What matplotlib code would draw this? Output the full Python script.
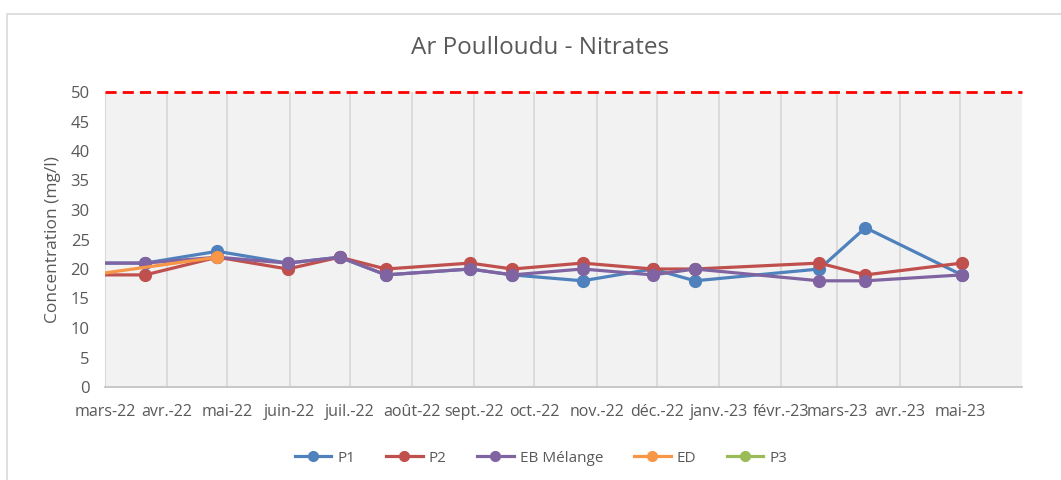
import matplotlib
matplotlib.use("Agg")
import matplotlib.pyplot as plt
import numpy as np
import pandas as pd
from matplotlib.lines import Line2D

plt.rcParams['font.family'] = ['Open Sans', 'DejaVu Sans']

# ---- data ----
dates = ["2022-02-22", "2022-03-21", "2022-04-26", "2022-05-31", "2022-06-26",
         "2022-07-19", "2022-08-30", "2022-09-20", "2022-10-25", "2022-11-29",
         "2022-12-20", "2023-02-20", "2023-03-15", "2023-05-02"]
p1 = [21, 21, 23, 21, 22, 19, 20, 19, 18, 20, 18, 20, 27, 19]
p2 = [19, 19, 22, 20, 22, 20, 21, 20, 21, 20, 20, 21, 19, 21]
eb = [21, 21, 22, 21, 22, 19, 20, 19, 20, 19, 20, 18, 18, 19]
ed_dates = ["2022-02-22", "2022-04-26"]
ed = [19, 22]
p3 = []
limit_value = 50

tick_months = pd.date_range("2022-03-01", "2023-05-01", freq="MS")
tick_labels = ["mars-22", "avr.-22", "mai-22", "juin-22", "juil.-22", "août-22",
               "sept.-22", "oct.-22", "nov.-22", "déc.-22", "janv.-23", "févr.-23",
               "mars-23", "avr.-23", "mai-23"]
series_names = ["P1", "P2", "EB Mélange", "ED", "P3"]
colors = ["#4F81BD", "#C0504D", "#8064A2", "#F79646", "#9BBB59"]

x = pd.to_datetime(dates)
x_ed = pd.to_datetime(ed_dates)

fig = plt.figure(figsize=(10.61, 4.8), dpi=100)
# chart border
fig.patches.append(plt.Rectangle((7/1061, -0.1), 1.2, (480-14)/480 + 0.1,
                                 transform=fig.transFigure, fill=False,
                                 edgecolor="#D9D9D9", linewidth=1.2))
ax = fig.add_axes([105/1061, 1-387/480, (1022-105)/1061, (387-92)/480])
ax.set_facecolor("#F2F2F2")

lw = 2.3
ms = 8.5
ax.plot(x, p1, color=colors[0], lw=lw, marker="o", ms=ms, zorder=3)
ax.plot(x, p2, color=colors[1], lw=lw, marker="o", ms=ms, zorder=4)
ax.plot(x, eb, color=colors[2], lw=lw, marker="o", ms=ms, zorder=5)
ax.plot(x_ed, ed, color=colors[3], lw=lw, marker="o", ms=ms, zorder=6)

ax.set_xlim(pd.Timestamp("2022-03-01"), pd.Timestamp("2023-06-01"))
ax.set_ylim(0, 50)
ax.axhline(limit_value, color="#FF0000", lw=2.0, ls=(0, (4, 2.2)), zorder=7, clip_on=False)

ax.set_xticks(tick_months)
ax.set_xticklabels(tick_labels, fontsize=11.5, color="#595959")
ax.set_yticks(np.arange(0, 51, 5))
ax.tick_params(axis="y", labelsize=12, colors="#595959", length=0, pad=11)
ax.tick_params(axis="x", length=0, pad=12)
ax.grid(axis="x", color="#D9D9D9", lw=1.3)
ax.set_axisbelow(True)
for s in ["top", "right"]:
    ax.spines[s].set_visible(False)
ax.spines["bottom"].set_color("#BFBFBF")
ax.spines["left"].set_color("#D9D9D9")
ax.spines["bottom"].set_linewidth(1.2)

ax.set_ylabel("Concentration (mg/l)", fontsize=12.5, color="#595959", labelpad=7)
fig.text(540/1061, 1-48/480, "Ar Poulloudu - Nitrates", ha="center", va="center",
         fontsize=17.5, color="#595959")

handles = [Line2D([0], [0], color=c, lw=lw, marker="o", ms=7) for c in colors]
fig.legend(handles, series_names, loc="center", bbox_to_anchor=(541/1061, 1-458/480),
           ncol=5, frameon=False, fontsize=11, labelcolor="#595959",
           handlelength=2.4, columnspacing=2.0, handletextpad=0.4)

fig.savefig("out.png", dpi=100)
